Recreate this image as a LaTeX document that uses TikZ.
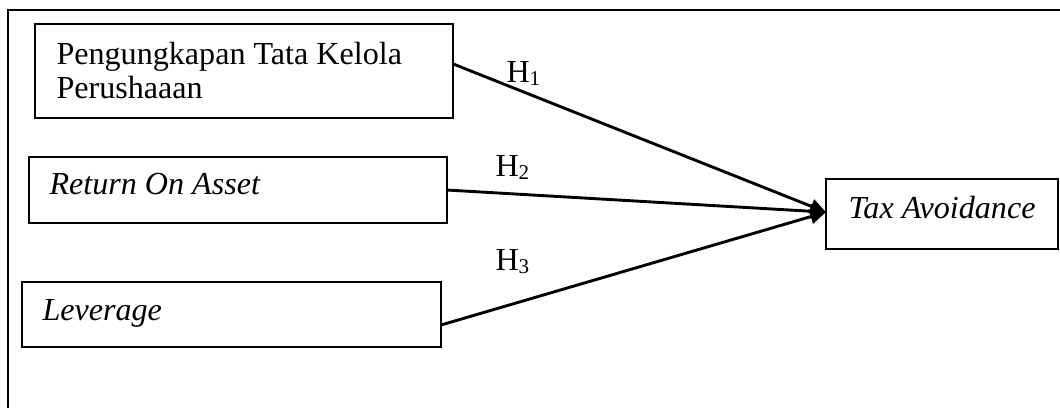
\documentclass[tikz,border=0pt]{standalone}
\usepackage{fontspec}
\setmainfont{Liberation Serif}
\usetikzlibrary{arrows.meta}
\newcommand{\hsub}[1]{{\fontsize{8}{8}\selectfont\raisebox{-0.8pt}{#1}}}
\begin{document}
\begin{tikzpicture}[x=0.38pt,y=-0.38pt,
  box/.style={draw,line width=0.75pt,rectangle,inner sep=0pt,outer sep=0pt,anchor=north west},
  txt/.style={inner sep=0pt,anchor=base west,font=\fontsize{12.2}{14}\selectfont},
  hyp/.style={inner sep=0pt,anchor=base west,font=\fontsize{12.2}{14}\selectfont},
  link/.style={line width=1.1pt,-{Triangle[length=6pt,width=5.5pt]}}]
\useasboundingbox (0,0) rectangle (1060,408);
\begin{scope}
\clip (0,0) rectangle (1060,408);
\draw[line width=0.75pt] (8,10) rectangle (1080,430);
\end{scope}
% boxes
\node[box,minimum width=158.8pt,minimum height=35.7pt] (b1) at (35,24) {};
\node[box,minimum width=158.8pt,minimum height=25.1pt] (b2) at (29,157) {};
\node[box,minimum width=159.2pt,minimum height=24.7pt] (b3) at (22,282) {};
\node[box,minimum width=88.2pt,minimum height=26.6pt] (tax) at (826,179) {};
% texts
\node[txt] (t1a) at (56,65) {Pengungkapan Tata Kelola};
\node[txt] (t1b) at (56,99) {Perushaaan};
\node[txt] (t2) at (49,195) {\itshape Return On Asset};
\node[txt] (t3) at (42,321) {\itshape Leverage};
\node[txt] (t4) at (848,219) {\itshape Tax Avoidance};
% hypothesis labels
\node[hyp] (h1) at (506,83) {H\hsub{1}};
\node[hyp] (h2) at (495,177) {H\hsub{2}};
\node[hyp] (h3) at (495,271) {H\hsub{3}};
% connectors
\coordinate (tip) at ([yshift=0.7pt]tax.west);
\draw[link] ([yshift=2.7pt]b1.east) -- (tip);
\draw[link] (b2.east) -- (tip);
\draw[link] ([yshift=-4pt]b3.east) -- (tip);
\end{tikzpicture}
\end{document}
